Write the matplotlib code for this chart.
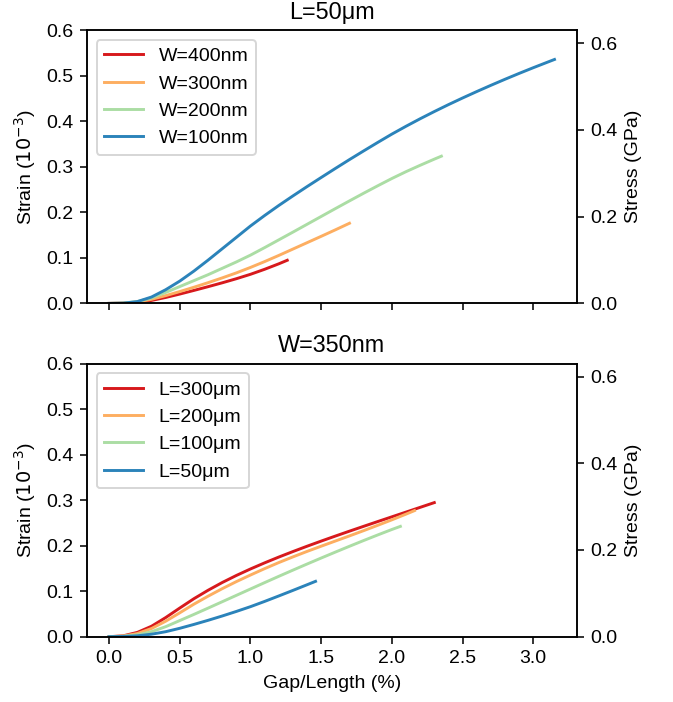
import matplotlib
matplotlib.use("Agg")
import matplotlib.pyplot as plt

plt.rcParams['font.family'] = ['Liberation Sans', 'DejaVu Sans']
plt.rcParams['font.size'] = 10

colors = ['#d7191c', '#fdae61', '#abdda4', '#2b83ba']

# Top panel: L=50um, varying W
top_labels = ['W=400nm', 'W=300nm', 'W=200nm', 'W=100nm']
top_x_400 = [0.0, 0.1, 0.2, 0.3, 0.4, 0.5, 0.6, 0.7, 0.8, 0.9, 1.0, 1.1, 1.2, 1.26]
top_y_400 = [0.0, 0.0005, 0.002, 0.0065, 0.013, 0.0205, 0.0285, 0.0367, 0.0452, 0.0542, 0.0639,
             0.0749, 0.0869, 0.0947]
top_x_300 = [0.0, 0.1, 0.2, 0.3, 0.4, 0.5, 0.6, 0.7, 0.8, 0.9, 1.0, 1.1, 1.2, 1.3, 1.4, 1.5, 1.6, 1.7]
top_y_300 = [0.0, 0.0005, 0.003, 0.009, 0.017, 0.026, 0.0355, 0.0455, 0.056, 0.067, 0.079, 0.0918,
             0.1053, 0.1193, 0.1333, 0.1473, 0.1615, 0.176]
top_x_200 = [0.0, 0.1, 0.2, 0.3, 0.4, 0.5, 0.6, 0.7, 0.8, 0.9, 1.0, 1.1, 1.2, 1.3, 1.4, 1.5, 1.6, 1.7,
             1.8, 1.9, 2.0, 2.1, 2.2, 2.3, 2.35]
top_y_200 = [0.0, 0.0007, 0.004, 0.012, 0.024, 0.037, 0.05, 0.063, 0.077, 0.091, 0.106, 0.1225, 0.1395,
             0.1565, 0.1737, 0.1909, 0.2081, 0.2251, 0.2419, 0.2583, 0.2743, 0.2893, 0.3033, 0.3168,
             0.3233]
top_x_100 = [0.0, 0.1, 0.2, 0.3, 0.4, 0.5, 0.6, 0.7, 0.8, 0.9, 1.0, 1.1, 1.2, 1.3, 1.4, 1.5, 1.6, 1.7,
             1.8, 1.9, 2.0, 2.1, 2.2, 2.3, 2.4, 2.5, 2.6, 2.7, 2.8, 2.9, 3.0, 3.1, 3.15]
top_y_100 = [0.0, 0.0005, 0.004, 0.014, 0.030, 0.049, 0.071, 0.095, 0.120, 0.145, 0.170, 0.193, 0.215,
             0.236, 0.2565, 0.2765, 0.2963, 0.3158, 0.3348, 0.3535, 0.3718, 0.389, 0.4055, 0.4213,
             0.4365, 0.4511, 0.4652, 0.4789, 0.4922, 0.5051, 0.5176, 0.5297, 0.5357]

# Bottom panel: W=350nm, varying L
bot_labels = ['L=300\u03bcm', 'L=200\u03bcm', 'L=100\u03bcm', 'L=50\u03bcm']
bot_x_300 = [0.0, 0.1, 0.2, 0.3, 0.4, 0.5, 0.6, 0.7, 0.8, 0.9, 1.0, 1.1, 1.2, 1.3, 1.4, 1.5, 1.6, 1.7,
             1.8, 1.9, 2.0, 2.1, 2.2, 2.3]
bot_y_300 = [0.0, 0.002, 0.0095, 0.023, 0.042, 0.063, 0.0835, 0.102, 0.119, 0.1345, 0.1488, 0.1622,
             0.1749, 0.187, 0.1987, 0.21, 0.221, 0.2318, 0.2424, 0.2529, 0.2633, 0.2737, 0.2841,
             0.2945]
bot_x_200 = [0.0, 0.1, 0.2, 0.3, 0.4, 0.5, 0.6, 0.7, 0.8, 0.9, 1.0, 1.1, 1.2, 1.3, 1.4, 1.5, 1.6, 1.7,
             1.8, 1.9, 2.0, 2.1, 2.16]
bot_y_200 = [0.0, 0.0015, 0.007, 0.018, 0.034, 0.0525, 0.0715, 0.089, 0.1055, 0.121, 0.1355, 0.1495,
             0.1628, 0.1753, 0.1873, 0.1988, 0.2101, 0.2214, 0.2329, 0.2447, 0.2567, 0.2692, 0.2769]
bot_x_100 = [0.0, 0.1, 0.2, 0.3, 0.4, 0.5, 0.6, 0.7, 0.8, 0.9, 1.0, 1.1, 1.2, 1.3, 1.4, 1.5, 1.6, 1.7,
             1.8, 1.9, 2.0, 2.06]
bot_y_100 = [0.0, 0.001, 0.004, 0.011, 0.022, 0.0355, 0.049, 0.0628, 0.0768, 0.0908, 0.1048, 0.1188,
             0.1326, 0.1462, 0.1596, 0.1728, 0.1858, 0.1986, 0.2112, 0.2235, 0.2355, 0.2423]
bot_x_50 = [0.0, 0.1, 0.2, 0.3, 0.4, 0.5, 0.6, 0.7, 0.8, 0.9, 1.0, 1.1, 1.2, 1.3, 1.4, 1.46]
bot_y_50 = [0.0, 0.0005, 0.002, 0.0055, 0.011, 0.0185, 0.027, 0.036, 0.0455, 0.0555, 0.066, 0.0775,
            0.0895, 0.1017, 0.1141, 0.1216]

xticks = [0.0, 0.5, 1.0, 1.5, 2.0, 2.5, 3.0]
yticks_left = [0.0, 0.1, 0.2, 0.3, 0.4, 0.5, 0.6]
yticks_right = [0.0, 0.2, 0.4, 0.6]

DPI = 140
fig, (ax1, ax2) = plt.subplots(2, 1, figsize=(673/DPI, 702/DPI), dpi=DPI, sharex=True)
fig.subplots_adjust(left=0.129, right=0.857, top=0.957, bottom=0.093, hspace=0.22)

top_series = [(top_x_400, top_y_400), (top_x_300, top_y_300), (top_x_200, top_y_200), (top_x_100, top_y_100)]
bot_series = [(bot_x_300, bot_y_300), (bot_x_200, bot_y_200), (bot_x_100, bot_y_100), (bot_x_50, bot_y_50)]

for ax, series, labels, title in [(ax1, top_series, top_labels, 'L=50\u03bcm'),
                                   (ax2, bot_series, bot_labels, 'W=350nm')]:
    for (x, y), lab, c in zip(series, labels, colors):
        ax.plot(x, y, color=c, label=lab, lw=1.5)
    ax.set_ylim(0, 0.6)
    ax.set_yticks(yticks_left)
    ax.set_ylabel('Strain ($10^{-3}$)')
    ax.set_title(title)
    ax.legend(loc='upper left')
    axr = ax.twinx()
    axr.set_ylim(0, 0.63)
    axr.set_yticks(yticks_right)
    axr.set_ylabel('Stress (GPa)')

ax2.set_xticks(xticks)
ax2.set_xlabel('Gap/Length (%)')

fig.savefig('out.png', dpi=DPI)
